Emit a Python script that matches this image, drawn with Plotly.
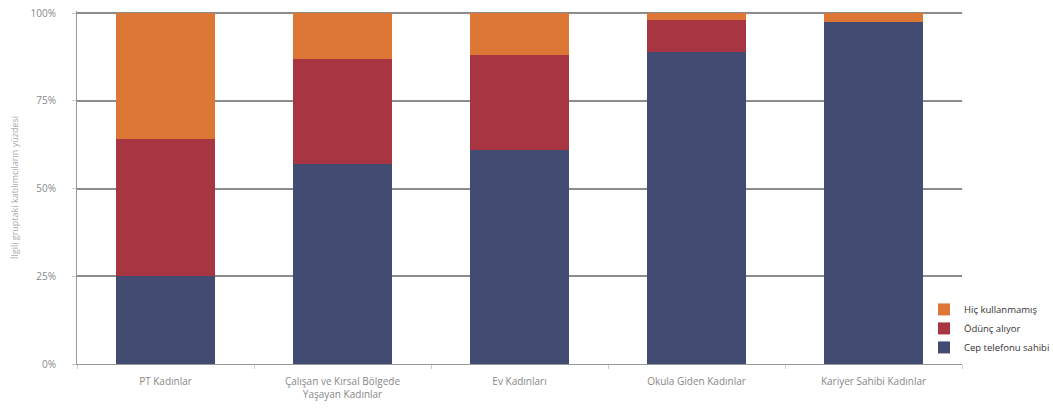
import plotly.graph_objects as go

categories = ["PT Kadınlar", "Çalışan ve Kırsal Bölgede<br>Yaşayan Kadınlar", "Ev Kadınları",
              "Okula Giden Kadınlar", "Kariyer Sahibi Kadınlar"]
cep_telefonu = [25, 57, 61, 89, 97.5]
odunc = [39, 30, 27, 9, 0]
hic = [36, 13, 12, 2, 2.5]
y_ticks = [0, 25, 50, 75, 100]
y_tick_labels = ["0%", "25%", "50%", "75%", "100%"]

series = [
    ("Cep telefonu sahibi", cep_telefonu, "#424c72"),
    ("Ödünç alıyor", odunc, "#a83642"),
    ("Hiç kullanmamış", hic, "#dc7735"),
]

fig = go.Figure()
for name, vals, color in series:
    fig.add_trace(go.Bar(x=categories, y=vals, name=name, marker=dict(color=color, line=dict(width=0)),
                         width=0.56))

fig.update_layout(
    barmode="stack",
    width=1053, height=416,
    margin=dict(l=77, r=91, t=11, b=52, autoexpand=False),
    plot_bgcolor="white", paper_bgcolor="white",
    font=dict(family="Open Sans", size=10, color="#888"),
    legend=dict(traceorder="reversed", xref="container", yref="container",
                x=924 / 1053, xanchor="left", y=0.13, yanchor="bottom",
                font=dict(size=9.5, color="#333"), itemwidth=30, tracegroupgap=0),
    bargap=0.44,
)
fig.update_xaxes(showline=True, linecolor="#999", linewidth=1, ticks="outside", tickson="boundaries",
                 ticklen=4, tickcolor="#ccc", showgrid=False, ticklabelstandoff=8, automargin=False,
                 tickfont=dict(size=10, color="#888"))
fig.update_yaxes(range=[0, 100.6], tickvals=y_ticks, ticktext=y_tick_labels,
                 showgrid=True, gridcolor="#8c8c8c", gridwidth=2, zeroline=False, automargin=False,
                 showline=True, linecolor="#999", linewidth=1, ticks="outside", ticklen=4, tickcolor="#ccc",
                 ticklabelstandoff=14,
                 tickfont=dict(size=10, color="#888"),
                 title=dict(text="İlgili gruptaki katılımcıların yüzdesi", font=dict(size=9, color="#aaa"),
                            standoff=10))
fig.write_html("out.html")
